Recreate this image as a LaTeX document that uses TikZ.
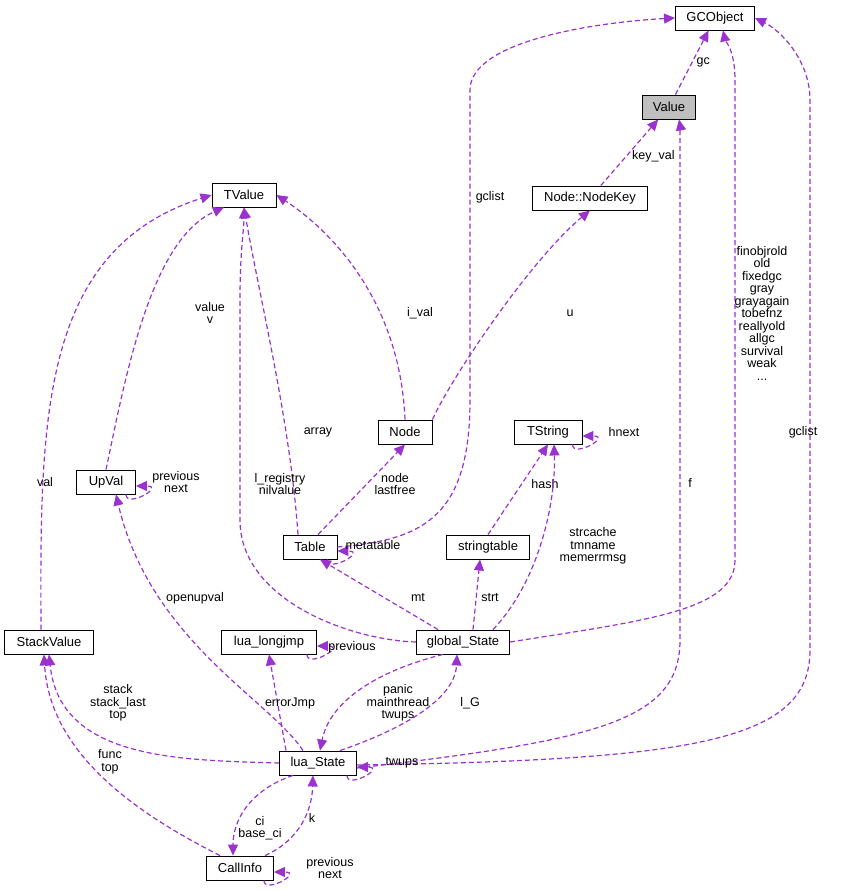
\documentclass[tikz,border=0pt]{standalone}
\usepackage{fontspec}
\setmainfont{Liberation Sans}
\usetikzlibrary{arrows.meta}
\definecolor{ep}{HTML}{9A32CD}
\begin{document}
\begin{tikzpicture}[x=1pt,y=-1pt,
  cls/.style={draw=black,line width=0.9pt,fill=white,font=\fontsize{13}{15}\selectfont,minimum height=24,inner xsep=5,inner ysep=0},
  e/.style={draw=ep,dashed,dash pattern=on 5pt off 3pt,line width=1.2pt,-{Triangle[length=11pt,width=10pt]}},
  lb/.style={font=\fontsize{12.5}{12.5}\selectfont,align=center,inner sep=1}]
\useasboundingbox (0,0) rectangle (854,891);
\node[cls,minimum width=79] (gco) at (715,18) {GCObject};
\node[cls,minimum width=53,fill=black!25] (val) at (669,107) {Value};
\node[cls,minimum width=115] (nk) at (590,198) {Node::NodeKey};
\node[cls,minimum width=64] (tv) at (244,195) {TValue};
\node[cls,minimum width=54] (node) at (405,432) {Node};
\node[cls,minimum width=68] (ts) at (548,432) {TString};
\node[cls,minimum width=59] (uv) at (106,482) {UpVal};
\node[cls,minimum width=54] (tab) at (310,547) {Table};
\node[cls,minimum width=83] (st) at (488,547) {stringtable};
\node[cls,minimum width=89] (sv) at (49,642) {StackValue};
\node[cls,minimum width=95] (lj) at (269,642) {lua\_longjmp};
\node[cls,minimum width=93] (gs) at (463,642) {global\_State};
\node[cls,minimum width=77] (ls) at (318,763) {lua\_State};
\node[cls,minimum width=67] (ci) at (240,868) {CallInfo};

\draw[e] (val) -- (gco) node[lb,pos=0.5,right=3] {gc};
\draw[e] (nk) -- (val) node[lb,pos=0.45,right=4] {key\_val};
\draw[e] (tab.east) .. controls (420,540) and (470,520) .. (470,400) -- (470,90) .. controls (470,40) and (600,22) .. (gco.west);
\node[lb] at (490,197) {gclist};
\draw[e] (node.north east) .. controls (450,380) and (530,260) .. (nk.south);
\node[lb] at (570,313) {u};
\draw[e] (node.north) .. controls (400,300) and (330,230) .. (tv.east);
\node[lb] at (420,313) {i\_val};
\draw[e] (uv.north) .. controls (125,380) and (150,240) .. ([xshift=-20]tv.south);
\node[lb] at (210,313) {value\\v};
\draw[e] ([xshift=-12]tab.north) .. controls (290,420) and (260,300) .. (tv.south);
\node[lb] at (318,432) {array};
\draw[e] ([xshift=-8]sv.north) .. controls (40,420) and (40,250) .. (tv.west);
\node[lb] at (45,482) {val};
\draw[e] ([xshift=-10]uv.south east) .. controls +(0,14) and +(30,0) .. ([yshift=-4]uv.east);
\node[lb] at (176,482) {previous\\next};
\draw[e] ([xshift=-10]ts.south east) .. controls +(0,14) and +(30,0) .. ([yshift=-4]ts.east);
\node[lb] at (624,432) {hnext};
\draw[e] ([xshift=8]tab.north) -- (node.south);
\node[lb] at (395,484) {node\\lastfree};
\draw[e] ([xshift=-10]tab.south east) .. controls +(0,14) and +(30,0) .. ([yshift=-4]tab.east);
\node[lb] at (373,545) {metatable};
\draw[e] (st.north) -- (ts.south);
\node[lb] at (545,484) {hash};
\draw[e] (gs.west) .. controls (350,640) and (240,600) .. (240,520) -- (240,300) .. controls (240,250) and (244,230) .. (tv.south);
\node[lb] at (280,484) {l\_registry\\nilvalue};
\draw[e] ([xshift=-25]gs.north) -- ([xshift=10]tab.south);
\node[lb] at (418,598) {mt};
\draw[e] ([xshift=10]gs.north) -- ([xshift=-8]st.south);
\node[lb] at (490,598) {strt};
\draw[e] ([xshift=30]gs.north) .. controls (540,580) and (556,500) .. ([xshift=6]ts.south);
\node[lb] at (593,546) {strcache\\tmname\\memerrmsg};
\draw[e] (gs.east) .. controls (650,620) and (735,610) .. (735,560) -- (735,80) .. controls (735,50) and (725,40) .. ([xshift=8]gco.south);
\node[lb] at (762,313) {finobjrold\\old\\fixedgc\\gray\\grayagain\\tobefnz\\reallyold\\allgc\\survival\\weak\\...};
\draw[e] ([yshift=-5]ls.east) .. controls (600,740) and (680,720) .. (680,640) -- (680,140) .. controls (680,130) and (680,125) .. ([xshift=10]val.south);
\node[lb] at (690,483) {f};
\draw[e] ([yshift=-2]ls.east) .. controls (700,760) and (810,740) .. (810,650) -- (810,100) .. controls (810,60) and (780,30) .. (gco.east);
\node[lb] at (803,432) {gclist};
\draw[e] ([xshift=-15]ls.north) .. controls (270,700) and (150,640) .. ([xshift=10]uv.south);
\node[lb] at (195,598) {openupval};
\draw[e] ([xshift=-10]lj.south east) .. controls +(0,14) and +(30,0) .. ([yshift=-4]lj.east);
\node[lb] at (352,647) {previous};
\draw[e] ([xshift=-32]ls.north) -- (lj.south);
\node[lb] at (290,703) {errorJmp};
\draw[e] (ls.west) .. controls (180,760) and (60,760) .. (sv.south);
\node[lb] at (118,703) {stack\\stack\_last\\top};
\draw[e] ([xshift=-20]gs.south) .. controls (380,670) and (330,700) .. ([xshift=2]ls.north);
\node[lb] at (398,703) {panic\\mainthread\\twups};
\draw[e] ([xshift=22]ls.north) .. controls (400,730) and (455,700) .. ([xshift=-6]gs.south);
\node[lb] at (470,703) {l\_G};
\draw[e] ([xshift=-10]ls.south east) .. controls +(0,14) and +(30,0) .. ([yshift=-4]ls.east);
\node[lb] at (402,763) {twups};
\draw[e] ([xshift=-20]ci.north) .. controls (150,820) and (50,760) .. ([xshift=-5]sv.south);
\node[lb] at (110,762) {func\\top};
\draw[e] ([xshift=25]ci.north) .. controls (300,840) and (312,810) .. ([xshift=-5]ls.south);
\node[lb] at (312,818) {k};
\draw[e] ([xshift=-25]ls.south) .. controls (250,790) and (233,820) .. ([xshift=-7]ci.north);
\node[lb] at (260,828) {ci\\base\_ci};
\draw[e] ([xshift=-10]ci.south east) .. controls +(0,14) and +(30,0) .. ([yshift=-4]ci.east);
\node[lb] at (330,868) {previous\\next};
\end{tikzpicture}
\end{document}
